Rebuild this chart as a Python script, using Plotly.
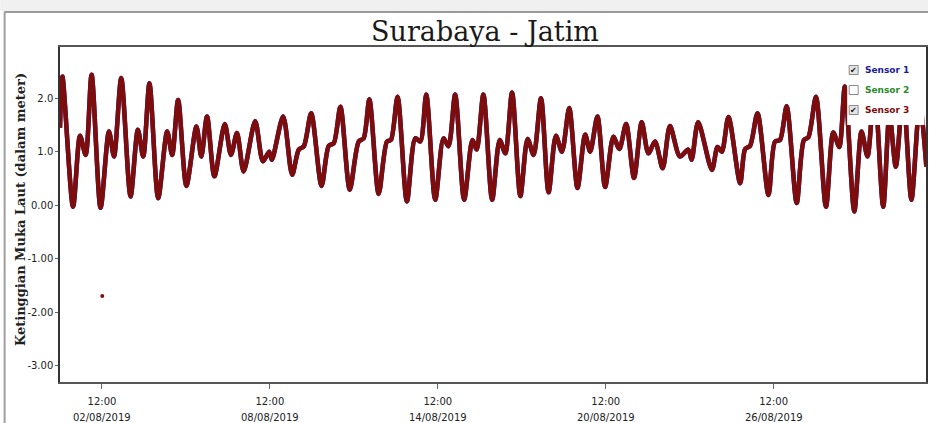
import plotly.graph_objects as go
import pandas as pd

# ---------------- data ----------------
start_time = "2019-08-01 00:00"
# hours since start_time of the turning points of the sea-level record
obs_hours = [0, 2.05, 11.2, 17.2, 22.0, 27.1, 34.8, 42.0, 46.3, 52.5, 60.5, 66.8, 71.4, 76.7,
             84.2, 91.9, 96.2, 101.3, 108.4, 117.0, 121.2, 126.1, 132.4, 141.3, 146.6, 151.8,
             157.5, 167.4, 174.0, 179.4, 181.7, 191.4, 199.1, 204.8, 209.1, 215.4, 224.3, 230.5,
             234.8, 240.5, 248.5, 256.2, 260.4, 265.3, 273.3, 280.4, 283.8, 289.5, 297.5, 304.7,
             309.0, 314.1, 321.8, 328.9, 333.2, 338.9, 346.6, 353.7, 357.4, 363.1, 370.6, 377.1,
             381.9, 387.7, 394.8, 401.0, 406.2, 412.5, 419.0, 425.3, 430.5, 436.7, 443.8, 450.4,
             454.7, 460.9, 467.5, 474.6, 479.7, 485.5, 492.3, 498.9, 504.6, 510.3, 516.9, 523.1,
             531.7, 538.8, 541.7, 547.3, 559.1, 563.9, 567.6, 573.3, 583.3, 587.6, 591.8, 598.2,
             607.6, 613.2, 617.5, 623.2, 631.8, 638.0, 641.8, 648.3, 656.9, 663.2, 668.3, 673.1,
             681.2, 687.4, 692.5, 698.5, 706.0, 711.4, 716.8, 723.1, 730.2, 737.3, 743.0]
sea_level = [1.45, 2.41, -0.03, 1.30, 0.94, 2.44, -0.05, 1.38, 0.91, 2.38, 0.16, 1.41, 0.91, 2.28,
             0.13, 1.38, 0.94, 1.97, 0.36, 1.47, 0.91, 1.66, 0.54, 1.52, 0.94, 1.35,
             0.63, 1.57, 0.82, 1.00, 0.85, 1.66, 0.57, 1.04, 1.10, 1.72, 0.36, 1.11,
             1.16, 1.84, 0.29, 1.19, 1.25, 1.98, 0.21, 1.19, 1.22, 2.03, 0.07, 1.25,
             1.19, 2.07, 0.10, 1.25, 1.10, 2.07, 0.10, 1.22, 1.04, 2.07, 0.10, 1.22,
             0.97, 2.11, 0.17, 1.24, 0.94, 2.00, 0.24, 1.30, 1.00, 1.82, 0.32, 1.32,
             1.00, 1.66, 0.34, 1.28, 1.05, 1.52, 0.51, 1.55, 0.97, 1.19, 0.69, 1.48,
             0.91, 1.04, 0.85, 1.55, 0.66, 1.09, 1.00, 1.65, 0.41, 1.05, 1.11, 1.72,
             0.19, 1.19, 1.22, 1.85, 0.04, 1.22, 1.27, 2.03, -0.03, 1.36, 1.09, 2.22,
             -0.12, 1.38, 0.91, 2.20, -0.03, 1.70, 0.72, 2.10, 0.10, 1.90, 0.72]
assert len(obs_hours) == len(sea_level)

outlier_time = ["2019-08-02 12:15"]
outlier_value = [-1.70]

x_range = ["2019-08-01 00:00", "2019-08-31 22:42"]
y_range = [-3.31, 2.96]

tick_vals = ["2019-08-02 12:00", "2019-08-08 12:00", "2019-08-14 12:00",
             "2019-08-20 12:00", "2019-08-26 12:00"]
tick_time = ["12:00", "12:00", "12:00", "12:00", "12:00"]
tick_date = ["02/08/2019", "08/08/2019", "14/08/2019", "20/08/2019", "26/08/2019"]

y_tick_vals = [2, 1, 0, -1, -2, -3]
y_tick_text = ["2.0", "1.0", "0.00", "-1.00", "-2.00", "-3.00"]

sensor_names = ["Sensor 1", "Sensor 2", "Sensor 3"]
sensor_colors = ["#1c1c9a", "#2a8a2a", "#7d0c0c"]
sensor_checked = [True, False, True]

# ---------------- figure ----------------
W, H = 930, 423
# plot area in page pixels
L, R, T, B = 60, 928, 47, 382


def px_x(px):
    return (px - L) / (R - L)


def px_y(py):
    return (B - py) / (B - T)


times = pd.Timestamp(start_time) + pd.to_timedelta(obs_hours, unit="h")

fig = go.Figure()
fig.add_trace(go.Scatter(x=times, y=sea_level, mode="lines", name="Sensor 1",
                         line=dict(color=sensor_colors[0], width=4.5, shape="spline", smoothing=0.8),
                         showlegend=False, hoverinfo="skip"))
fig.add_trace(go.Scatter(x=times, y=sea_level, mode="lines", name="Sensor 3",
                         line=dict(color=sensor_colors[2], width=4.5, shape="spline", smoothing=0.8),
                         showlegend=False))
fig.add_trace(go.Scatter(x=pd.to_datetime(outlier_time), y=outlier_value, mode="markers",
                         marker=dict(color=sensor_colors[2], size=4), showlegend=False))

shapes = []
# outer window frame
shapes.append(dict(type="rect", xref="paper", yref="paper", x0=px_x(0), x1=px_x(W),
                   y0=px_y(11), y1=px_y(0), fillcolor="#f0f0f0", line=dict(width=0),
                   layer="below"))
shapes.append(dict(type="line", xref="paper", yref="paper", x0=px_x(4), x1=px_x(W),
                   y0=px_y(12), y1=px_y(12), line=dict(color="#9a9a9a", width=2)))
shapes.append(dict(type="line", xref="paper", yref="paper", x0=px_x(4.5), x1=px_x(4.5),
                   y0=px_y(12), y1=px_y(H), line=dict(color="#a0a0a0", width=2)))
# legend panel covering the traces
shapes.append(dict(type="rect", xref="paper", yref="paper", x0=px_x(849), x1=px_x(926.5),
                   y0=px_y(125), y1=px_y(48.5), fillcolor="white", line=dict(width=0),
                   layer="above"))

annotations = []
legend_y = [70, 90, 110]
for name, col, chk, ly in zip(sensor_names, sensor_colors, sensor_checked, legend_y):
    shapes.append(dict(type="rect", xref="paper", yref="paper",
                       x0=px_x(851), x1=px_x(860), y0=px_y(ly + 4.5), y1=px_y(ly - 4.5),
                       fillcolor="#e4e4e4" if chk else "white",
                       line=dict(color="#8c8c8c", width=1), layer="above"))
    if chk:
        annotations.append(dict(x=px_x(855.5), y=px_y(ly), xref="paper", yref="paper",
                                text="✔", showarrow=False, xanchor="center", yanchor="middle",
                                font=dict(family="DejaVu Sans", size=8, color="#111")))
    annotations.append(dict(x=px_x(865), y=px_y(ly), xref="paper", yref="paper",
                            text=f"<b>{name}</b>", showarrow=False, xanchor="left",
                            yanchor="middle",
                            font=dict(family="DejaVu Sans", size=9, color=col)))

# date row under the time tick labels
for tv, td in zip(tick_vals, tick_date):
    annotations.append(dict(x=tv, y=px_y(417), xref="x", yref="paper", text=td,
                            showarrow=False, xanchor="center", yanchor="middle",
                            font=dict(family="DejaVu Sans", size=10, color="#222")))

# y-axis title
annotations.append(dict(x=px_x(20), y=px_y(210), xref="paper", yref="paper",
                        text="<b>Ketinggian Muka Laut (dalam meter)</b>", textangle=-90,
                        showarrow=False, xanchor="center", yanchor="middle",
                        font=dict(family="DejaVu Serif", size=13, color="#222")))

fig.update_layout(
    width=W, height=H,
    margin=dict(l=L, r=W - R, t=T, b=H - B),
    paper_bgcolor="white", plot_bgcolor="white",
    title=dict(text="Surabaya - Jatim", x=485 / W, xref="container", xanchor="center",
               y=1 - 32 / H, yref="container", yanchor="middle",
               font=dict(family="DejaVu Serif", size=27, color="#1a1a1a")),
    shapes=shapes, annotations=annotations,
    showlegend=False,
    xaxis=dict(type="date", range=x_range, tickvals=tick_vals, ticktext=tick_time,
               ticks="outside", ticklen=5, tickcolor="#666", showgrid=False, zeroline=False,
               showline=True, linecolor="#555", linewidth=2, mirror=True,
               tickfont=dict(family="DejaVu Sans", size=10, color="#222"),
               ticklabelstandoff=4),
    yaxis=dict(range=y_range, tickvals=y_tick_vals, ticktext=y_tick_text,
               ticks="outside", ticklen=3, tickcolor="#666", showgrid=False, zeroline=False,
               showline=True, linecolor="#333", linewidth=1.5, mirror=True,
               tickfont=dict(family="DejaVu Sans", size=10, color="#222")),
)

# place the figure at the page origin (no default body margin, no scrollbars)
fig.write_html("out.html",
               config={"displayModeBar": False},
               post_script="document.body.style.margin='0';"
                           "document.body.style.overflow='hidden';")
